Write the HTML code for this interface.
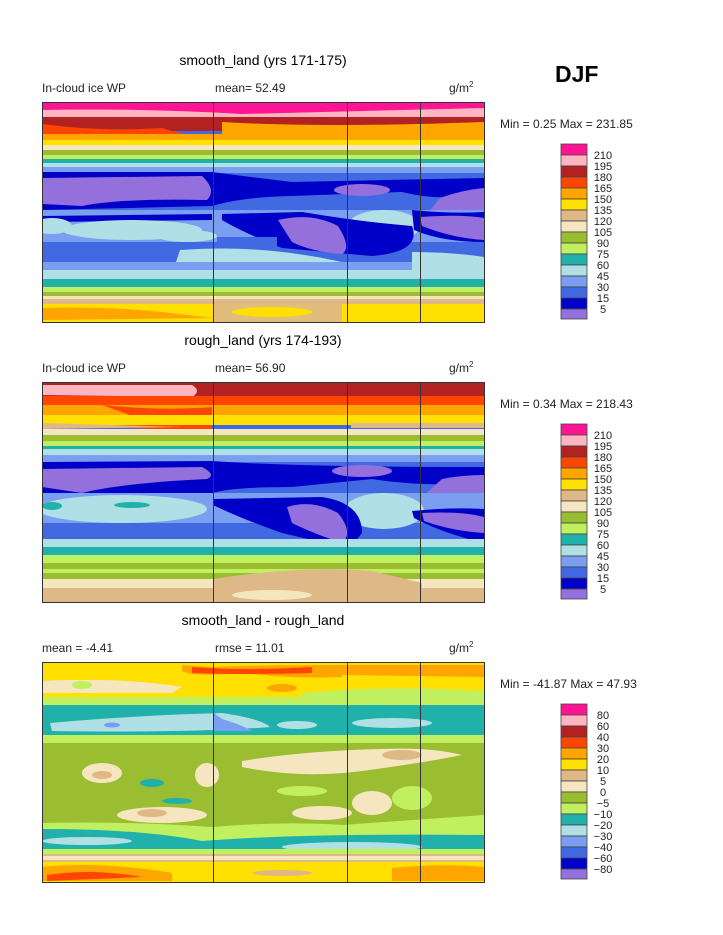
<!DOCTYPE html>
<html><head><meta charset="utf-8"><style>
body{margin:0;background:#fff}
svg{display:block}
text{font-family:"Liberation Sans",sans-serif}
</style></head><body>
<svg width="723" height="935" viewBox="0 0 723 935" xmlns="http://www.w3.org/2000/svg">
<defs><clipPath id="c"><rect x="0" y="0" width="442" height="220"/></clipPath></defs>

<!-- texts -->
<text x="263" y="65" font-size="14" text-anchor="middle">smooth_land (yrs 171-175)</text>
<text x="42" y="92" font-size="12" fill="#222">In-cloud ice WP</text>
<text x="215" y="92" font-size="12" fill="#222">mean=  52.49</text>
<text x="449" y="92" font-size="12" fill="#222">g/m<tspan font-size="8" dy="-5">2</tspan></text>
<text x="555" y="82" font-size="23" font-weight="bold">DJF</text>

<text x="263" y="345" font-size="14" text-anchor="middle">rough_land (yrs 174-193)</text>
<text x="42" y="372" font-size="12" fill="#222">In-cloud ice WP</text>
<text x="215" y="372" font-size="12" fill="#222">mean=  56.90</text>
<text x="449" y="372" font-size="12" fill="#222">g/m<tspan font-size="8" dy="-5">2</tspan></text>

<text x="263" y="625" font-size="14" text-anchor="middle">smooth_land - rough_land</text>
<text x="42" y="652" font-size="12" fill="#222">mean =  -4.41</text>
<text x="215" y="652" font-size="12" fill="#222">rmse =  11.01</text>
<text x="449" y="652" font-size="12" fill="#222">g/m<tspan font-size="8" dy="-5">2</tspan></text>

<g font-size="12" fill="#222" xml:space="preserve">
<text x="500" y="128">Min =   0.25 Max = 231.85</text>
<text x="500" y="408">Min =   0.34 Max = 218.43</text>
<text x="500" y="688">Min = -41.87 Max =  47.93</text>
</g>

<!-- PANEL 1 -->
<g transform="translate(42,102)" clip-path="url(#c)">
<rect width="442" height="220" fill="#4169e1"/>
<rect y="0" width="442" height="12" fill="#ff1493"/>
<path d="M0 8 Q100 6 200 12 L442 6 L442 16 L0 16Z" fill="#ffb6c1"/>
<rect y="15" width="442" height="14" fill="#b22222"/>
<path d="M0 22 Q60 30 120 26 Q160 40 200 30 L442 24 L442 34 L0 34Z" fill="#ff4500"/>
<rect y="32" width="442" height="6" fill="#ffa500"/>
<path d="M180 20 Q280 26 442 20 L442 36 L180 36Z" fill="#ffa500"/>
<rect y="38" width="442" height="6" fill="#ffe000"/>
<rect y="43" width="442" height="5" fill="#f5e6c0"/>
<rect y="48" width="442" height="5" fill="#9abd32"/>
<rect y="53" width="442" height="4" fill="#c0f060"/>
<rect y="57" width="442" height="5" fill="#20b2aa"/>
<rect y="61" width="442" height="4" fill="#b0e0e6"/>
<rect y="65" width="442" height="6" fill="#7b9ff0"/>
<path d="M0 70 L170 70 Q200 74 250 80 L442 76 L442 92 Q400 100 360 90 L250 94 Q200 95 170 104 L0 108Z" fill="#0000c8"/>
<path d="M0 76 L160 74 Q175 88 165 98 Q80 96 40 104 L0 102Z" fill="#9370db"/>
<ellipse cx="320" cy="88" rx="28" ry="6" fill="#9370db"/>
<path d="M398 96 Q420 88 442 86 L442 114 Q410 118 385 112Z" fill="#9370db"/>
<rect y="108" width="442" height="32" fill="#7b9ff0"/>
<path d="M0 114 L170 112 L170 118 L0 120Z" fill="#0000c8"/>
<ellipse cx="90" cy="128" rx="70" ry="10" fill="#b0e0e6"/>
<ellipse cx="10" cy="124" rx="20" ry="8" fill="#b0e0e6"/>
<ellipse cx="145" cy="134" rx="30" ry="6" fill="#b0e0e6"/>
<ellipse cx="342" cy="124" rx="36" ry="16" fill="#b0e0e6"/>
<path d="M180 112 L260 110 Q320 120 370 124 Q380 150 330 154 L240 146 Q200 130 180 118Z" fill="#0000c8"/>
<path d="M236 118 Q270 110 296 124 Q310 146 300 152 Q270 150 250 140Z" fill="#9370db"/>
<path d="M370 108 Q410 112 442 110 L442 140 Q400 140 372 128Z" fill="#0000c8"/>
<path d="M378 115 Q420 112 442 116 L442 138 Q410 136 380 124Z" fill="#9370db"/>
<rect y="140" width="170" height="20" fill="#4169e1"/>
<rect x="175" y="135" width="60" height="25" fill="#4169e1"/>
<path d="M138 148 Q220 142 300 160 L300 172 L130 172Z" fill="#b0e0e6"/>
<rect y="160" width="442" height="10" fill="#7b9ff0"/>
<rect y="168" width="442" height="10" fill="#b0e0e6"/>
<path d="M370 150 Q410 150 442 155 L442 175 L370 175Z" fill="#b0e0e6"/>
<rect y="177" width="442" height="8" fill="#20b2aa"/>
<rect y="185" width="442" height="5" fill="#c0f060"/>
<rect y="190" width="442" height="4" fill="#9abd32"/>
<rect y="194" width="442" height="3" fill="#f5e6c0"/>
<rect y="197" width="442" height="5" fill="#deb887"/>
<rect y="202" width="442" height="18" fill="#ffe000"/>
<path d="M0 206 Q60 204 120 210 L170 216 L0 218Z" fill="#ffa500"/>
<path d="M171 200 L300 200 L300 220 L171 220Z" fill="#deb887" opacity=".9"/>
<ellipse cx="230" cy="210" rx="40" ry="5" fill="#ffe000"/>
</g>

<!-- PANEL 2 -->
<g transform="translate(42,383)" clip-path="url(#c)">
<rect width="442" height="220" fill="#4169e1"/>
<rect width="442" height="14" fill="#b22222"/>
<path d="M0 2 L150 2 Q160 8 150 14 L0 12Z" fill="#ffb6c1"/>
<rect y="13" width="442" height="10" fill="#ff4500"/>
<path d="M0 22 L60 24 Q100 30 160 28 L170 46 L110 46 L0 40Z" fill="#ff4500"/>
<rect y="22" width="442" height="10" fill="#ffa500"/>
<path d="M60 22 Q120 28 170 24 L170 48 Q130 50 110 40 Z" fill="#ff4500"/>
<rect y="32" width="442" height="10" fill="#ffe000"/>
<path d="M0 40 L140 44 L0 46Z" fill="#deb887"/>
<rect x="309" y="40" width="133" height="5" fill="#deb887"/>
<rect y="46" width="442" height="6" fill="#f5e6c0"/>
<rect y="52" width="442" height="6" fill="#9abd32"/>
<rect y="58" width="442" height="5" fill="#c0f060"/>
<rect y="63" width="442" height="3" fill="#20b2aa"/>
<rect y="66" width="442" height="6" fill="#b0e0e6"/>
<rect y="72" width="442" height="7" fill="#7b9ff0"/>
<path d="M0 79 L170 78 Q250 84 442 84 L442 100 Q380 104 330 96 L250 104 Q190 104 170 110 L0 112Z" fill="#0000c8"/>
<path d="M0 86 L160 84 Q175 92 165 96 Q80 100 40 110 L0 104Z" fill="#9370db"/>
<ellipse cx="320" cy="88" rx="30" ry="6" fill="#9370db"/>
<path d="M400 96 Q420 92 442 92 L442 114 Q410 118 380 114Z" fill="#9370db"/>
<rect y="110" width="442" height="30" fill="#7b9ff0"/>
<ellipse cx="80" cy="126" rx="85" ry="14" fill="#b0e0e6"/>
<ellipse cx="90" cy="122" rx="18" ry="3" fill="#20b2aa"/>
<ellipse cx="10" cy="123" rx="10" ry="4" fill="#20b2aa"/>
<ellipse cx="342" cy="128" rx="40" ry="18" fill="#b0e0e6"/>
<path d="M171 116 L280 114 Q320 120 320 150 Q310 164 300 164 L240 150 Q200 136 171 122Z" fill="#0000c8"/>
<path d="M245 124 Q270 116 296 130 Q312 150 300 160 Q270 150 250 140Z" fill="#9370db"/>
<path d="M370 128 Q410 124 442 126 L442 160 Q400 150 372 135Z" fill="#0000c8"/>
<path d="M380 130 Q420 128 442 134 L442 150 Q410 148 382 138Z" fill="#9370db"/>
<ellipse cx="90" cy="152" rx="45" ry="8" fill="#4169e1"/>
<rect y="156" width="442" height="10" fill="#b0e0e6"/>
<rect y="164" width="442" height="10" fill="#20b2aa"/>
<rect y="172" width="442" height="8" fill="#c0f060"/>
<rect y="180" width="442" height="16" fill="#9abd32"/>
<rect y="186" width="442" height="4" fill="#c0f060"/>
<rect y="196" width="442" height="10" fill="#f5e6c0"/>
<rect y="205" width="442" height="15" fill="#deb887"/>
<path d="M171 196 Q260 182 330 188 L380 200 L380 220 L171 220Z" fill="#deb887"/>
<ellipse cx="230" cy="212" rx="40" ry="5" fill="#f5e6c0"/>
</g>

<!-- PANEL 3 -->
<g transform="translate(42,663)" clip-path="url(#c)">
<rect width="442" height="220" fill="#9abd32"/>
<rect width="442" height="34" fill="#ffe000"/>
<path d="M140 2 L170 4 Q220 2 300 2 L300 14 Q250 16 200 10 Q150 14 140 8Z" fill="#ffa500"/>
<path d="M150 4 Q200 8 270 4 L270 10 Q200 12 150 10Z" fill="#ff4500"/>
<path d="M300 2 L442 2 L442 14 L300 12Z" fill="#ffa500"/>
<ellipse cx="240" cy="25" rx="15" ry="4" fill="#ffa500"/>
<path d="M0 18 Q80 14 140 24 L130 30 L0 30Z" fill="#f5e6c0"/>
<ellipse cx="40" cy="22" rx="10" ry="4" fill="#c0f060"/>
<path d="M260 30 Q340 22 442 28 L442 38 L260 38Z" fill="#c0f060"/>
<rect y="34" width="442" height="8" fill="#c0f060"/>
<rect y="42" width="442" height="32" fill="#20b2aa"/>
<path d="M8 60 Q100 52 180 50 Q220 56 228 64 Q150 70 10 68Z" fill="#b0e0e6"/>
<ellipse cx="70" cy="62" rx="8" ry="2.5" fill="#7b9ff0"/>
<path d="M172 50 L180 56 Q200 62 210 68 L172 68Z" fill="#7b9ff0"/>
<ellipse cx="255" cy="62" rx="20" ry="4" fill="#b0e0e6"/>
<ellipse cx="350" cy="60" rx="40" ry="5" fill="#b0e0e6"/>
<rect y="72" width="442" height="8" fill="#c0f060"/>
<path d="M200 98 Q260 88 340 86 Q390 84 420 92 Q380 100 320 108 Q260 116 200 104Z" fill="#f5e6c0"/>
<ellipse cx="360" cy="92" rx="20" ry="5" fill="#deb887"/>
<ellipse cx="60" cy="110" rx="20" ry="10" fill="#f5e6c0"/>
<ellipse cx="60" cy="112" rx="10" ry="4" fill="#deb887"/>
<ellipse cx="165" cy="112" rx="12" ry="12" fill="#f5e6c0"/>
<ellipse cx="120" cy="152" rx="45" ry="8" fill="#f5e6c0"/>
<ellipse cx="110" cy="150" rx="15" ry="4" fill="#deb887"/>
<ellipse cx="280" cy="150" rx="30" ry="7" fill="#f5e6c0"/>
<ellipse cx="330" cy="140" rx="20" ry="12" fill="#f5e6c0"/>
<ellipse cx="260" cy="128" rx="25" ry="5" fill="#c0f060"/>
<ellipse cx="370" cy="135" rx="20" ry="12" fill="#c0f060"/>
<ellipse cx="110" cy="120" rx="12" ry="4" fill="#20b2aa"/>
<ellipse cx="135" cy="138" rx="15" ry="3" fill="#20b2aa"/>
<path d="M0 160 Q80 158 170 164 Q240 158 300 162 L442 152 L442 190 L0 190Z" fill="#c0f060"/>
<path d="M0 166 Q100 166 160 178 Q260 170 442 172 L442 186 L0 186Z" fill="#20b2aa"/>
<ellipse cx="45" cy="178" rx="45" ry="4" fill="#b0e0e6"/>
<ellipse cx="310" cy="184" rx="70" ry="5" fill="#b0e0e6"/>
<rect y="186" width="442" height="5" fill="#c0f060"/>
<rect y="191" width="442" height="8" fill="#deb887"/>
<rect y="193" width="442" height="4" fill="#f5e6c0"/>
<rect y="199" width="442" height="21" fill="#ffe000"/>
<path d="M0 204 Q60 198 130 210 L130 218 L0 218Z" fill="#ffa500"/>
<path d="M5 212 Q50 205 100 214 L5 218Z" fill="#ff4500"/>
<path d="M350 205 Q400 200 442 204 L442 218 L350 218Z" fill="#ffa500"/>
<ellipse cx="240" cy="210" rx="30" ry="3" fill="#deb887"/>
</g>

<!-- frames and vertical lines -->
<g fill="none" stroke="#333" stroke-width="1">
<rect x="42.5" y="102.5" width="442" height="220"/>
<rect x="42.5" y="382.5" width="442" height="220"/>
<rect x="42.5" y="662.5" width="442" height="220"/>
<path d="M213.5 102V323M347.5 102V323M420.5 102V323M213.5 382V603M347.5 382V603M420.5 382V603M213.5 662V883M347.5 662V883M420.5 662V883"/>
</g>

<!-- colorbars -->
<g id="cb1" stroke="#444" stroke-width="0.8">
<rect x="561" y="144" width="26" height="11" fill="#ff1493"/>
<rect x="561" y="155" width="26" height="11" fill="#ffb6c1"/>
<rect x="561" y="166" width="26" height="11" fill="#b22222"/>
<rect x="561" y="177" width="26" height="11" fill="#ff4500"/>
<rect x="561" y="188" width="26" height="11" fill="#ffa500"/>
<rect x="561" y="199" width="26" height="11" fill="#ffe000"/>
<rect x="561" y="210" width="26" height="11" fill="#deb887"/>
<rect x="561" y="221" width="26" height="11" fill="#f5e6c0"/>
<rect x="561" y="232" width="26" height="11" fill="#9abd32"/>
<rect x="561" y="243" width="26" height="11" fill="#c0f060"/>
<rect x="561" y="254" width="26" height="11" fill="#20b2aa"/>
<rect x="561" y="265" width="26" height="11" fill="#b0e0e6"/>
<rect x="561" y="276" width="26" height="11" fill="#7b9ff0"/>
<rect x="561" y="287" width="26" height="11" fill="#4169e1"/>
<rect x="561" y="298" width="26" height="11" fill="#0000c8"/>
<rect x="561" y="309" width="26" height="10" fill="#9370db"/>
</g>
<use href="#cb1" y="280"/>
<use href="#cb1" y="560"/>
<g font-size="11" fill="#222" text-anchor="middle">
<text x="603" y="159">210</text><text x="603" y="170">195</text><text x="603" y="181">180</text><text x="603" y="192">165</text><text x="603" y="203">150</text><text x="603" y="214">135</text><text x="603" y="225">120</text><text x="603" y="236">105</text><text x="603" y="247">90</text><text x="603" y="258">75</text><text x="603" y="269">60</text><text x="603" y="280">45</text><text x="603" y="291">30</text><text x="603" y="302">15</text><text x="603" y="313">5</text>
<text x="603" y="439">210</text><text x="603" y="450">195</text><text x="603" y="461">180</text><text x="603" y="472">165</text><text x="603" y="483">150</text><text x="603" y="494">135</text><text x="603" y="505">120</text><text x="603" y="516">105</text><text x="603" y="527">90</text><text x="603" y="538">75</text><text x="603" y="549">60</text><text x="603" y="560">45</text><text x="603" y="571">30</text><text x="603" y="582">15</text><text x="603" y="593">5</text>
<text x="603" y="719">80</text><text x="603" y="730">60</text><text x="603" y="741">40</text><text x="603" y="752">30</text><text x="603" y="763">20</text><text x="603" y="774">10</text><text x="603" y="785">5</text><text x="603" y="796">0</text><text x="603" y="807">−5</text><text x="603" y="818">−10</text><text x="603" y="829">−20</text><text x="603" y="840">−30</text><text x="603" y="851">−40</text><text x="603" y="862">−60</text><text x="603" y="873">−80</text>
</g>
</svg>
</body></html>
